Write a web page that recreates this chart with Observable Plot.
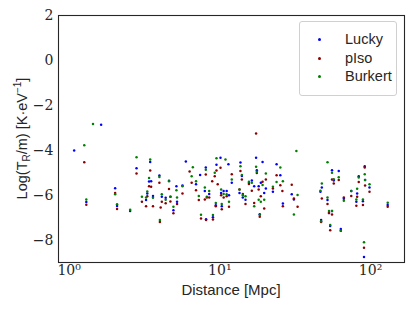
<!DOCTYPE html>
<html>
<head>
<meta charset="utf-8">
<script src="https://cdn.jsdelivr.net/npm/d3@7"></script>
<script src="https://cdn.jsdelivr.net/npm/@observablehq/plot@0.6"></script>
<style>
  html, body { margin: 0; padding: 0; background: white; }
  #wrap { position: relative; width: 415px; height: 311px; }
  #legend {
    position: absolute; left: 299px; top: 21px; width: 98px; height: 75px;
    border: 1px solid #d0d0d0; border-radius: 3px; background: rgba(255,255,255,0.85);
    font-family: "Liberation Sans", Arial, sans-serif; font-size: 14.5px; color: #262626;
    box-sizing: border-box;
  }
  .row { position: absolute; left: 0; height: 18px; line-height: 18px; }
  .mk { position: absolute; left: 18px; top: 8px; width: 3px; height: 3px; border-radius: 50%; }
  .lb { position: absolute; left: 45px; top: 0; white-space: nowrap; }
</style>
</head>
<body>
<div id="wrap"></div>
<script>
// Galaxy distances (Mpc)
const distance = [1.08,1.26,1.30,1.44,1.63,2.02,2.08,2.54,2.80,3.04,
  3.24,3.30,3.39,3.45,3.50,3.60,3.97,4.12,4.05,4.00,
  4.37,4.60,4.70,4.92,5.15,5.20,5.65,5.95,6.30,6.50,
  6.62,6.95,7.25,7.40,8.07,7.95,8.50,7.50,8.10,9.00,
  9.25,8.90,10.1,9.5,10.9,11.4,9.68,10.2,10.6,11.1,
  12.0,9.40,10.3,11.5,8.20,13.7,14.0,13.5,14.2,14.8,
  15.6,16.3,16.9,17.4,17.6,18.1,18.4,18.7,19.2,20.2,
  19.7,22.5,23.8,25.2,26.2,26.0,30.0,31.0,32.8,32.2,
  51.8,55.5,61.5,57.0,47.5,46.5,51.8,53.0,55.5,47.0,
  54.0,63.5,66.5,74.5,80.5,81.5,83.5,89.0,91.5,92.0,
  90.5,98.4,130];
// Log(T_R/m) per profile
const lucky = [-4.01,null,-6.31,null,-2.86,-5.69,-6.48,-6.71,-4.80,null,
  -6.22,-5.93,-5.39,-4.52,-5.38,-6.04,-5.12,-6.07,null,null,
  -6.12,-5.36,-6.07,-6.67,-5.60,-6.30,-5.57,-4.50,null,null,
  null,-5.51,null,-5.10,-4.77,-5.82,-5.95,null,-7.07,-6.99,
  null,null,-4.34,-4.65,null,-4.62,null,-5.90,-5.82,-5.82,
  -5.45,-6.45,-6.50,-6.00,null,-4.55,-5.15,-5.90,-6.10,-6.20,
  -5.45,-5.35,-5.60,-4.33,-4.89,-5.60,-6.85,-5.45,-4.52,-5.70,
  -5.90,-5.85,-4.62,-5.11,-6.37,null,-5.96,-6.19,null,null,
  null,-4.89,-4.93,-5.35,-5.66,-5.85,-6.22,-6.80,-6.71,-7.11,
  -7.38,-7.51,-6.16,-5.82,-6.30,-5.93,-5.16,-6.27,-4.71,-5.33,
  -8.76,-5.66,-6.44];
const pIso = [null,-4.53,-6.43,null,null,-5.91,-6.62,null,-5.04,-6.30,
  -6.49,-6.05,-5.60,-4.90,-5.63,-6.49,-5.45,-6.30,-6.55,-7.20,
  -6.36,-5.73,-6.28,-6.81,null,-6.40,-5.93,null,-4.95,-5.45,
  null,-5.78,-6.22,null,-5.08,-6.19,-6.10,-7.04,-7.11,-7.08,
  -5.16,-5.38,-4.78,-4.90,null,null,-5.51,-6.00,-6.10,-6.05,
  -5.07,-6.50,-6.63,-6.52,-6.10,-4.93,-5.30,-5.75,-5.95,-6.40,
  -5.50,-5.80,-6.35,-3.26,-5.01,-5.75,-6.96,-6.05,-5.40,-5.30,
  -6.60,-5.70,-5.11,-5.56,-6.49,-5.82,-5.54,-6.15,-6.52,null,
  null,-5.30,-5.33,-5.48,-6.15,null,-6.39,-6.79,-6.86,-7.20,
  -7.56,-7.59,-6.10,-6.04,-6.47,-6.07,-5.41,-6.44,-4.77,-5.57,
  -8.34,-5.85,-6.52];
const burkert = [null,-3.78,-6.19,-2.83,null,-5.96,-6.41,-6.65,-4.31,-6.07,
  -6.10,-5.84,-5.24,-4.41,null,-6.12,-5.19,-5.96,null,-7.11,
  -6.20,-5.38,-6.07,-6.52,-5.78,-6.10,-5.60,null,null,-5.16,
  -4.76,-5.38,-6.04,null,-4.87,-5.66,-5.82,-6.87,null,-6.89,
  -5.00,null,null,-4.36,-4.41,null,null,-5.75,-5.95,-5.96,
  -5.30,-6.35,-6.40,-6.30,-6.07,-4.71,-5.10,-5.75,-6.00,-6.05,
  -5.40,-5.45,-6.50,-4.74,-4.96,-6.20,-6.89,-6.30,-5.55,-5.04,
  -6.20,-5.63,-5.41,-4.77,-5.38,null,null,-6.86,-5.99,-4.03,
  -4.53,-5.00,-5.20,-5.29,-5.48,-5.80,-6.10,-6.71,-6.71,-7.16,
  -7.33,-7.59,-6.25,-5.82,-6.19,-5.72,-5.21,-6.19,-5.07,-5.33,
  -8.10,-5.52,-6.34];

const seriesNames = ["Lucky", "pIso", "Burkert"];
const seriesColors = ["#0000ff", "#8b0000", "#007f00"];
const xTicks = [1, 10, 100];
const xTickLabels = ["10⁰", "10¹", "10²"];
const yTicks = [-8, -6, -4, -2, 0, 2];

const seriesValues = [lucky, pIso, burkert];
const rows = [];
seriesValues.forEach((vals, s) => {
  vals.forEach((v, i) => {
    if (v != null) rows.push({d: distance[i], v, s: seriesNames[s]});
  });
});

const chart = Plot.plot({
  width: 415,
  height: 311,
  marginLeft: 58,
  marginRight: 11,
  marginTop: 15,
  marginBottom: 49,
  style: {fontFamily: "DejaVu Serif", fontSize: "14px", color: "#262626", background: "white", overflow: "visible"},
  x: {type: "log", domain: [0.85, 168], ticks: xTicks, tickFormat: d => xTickLabels[xTicks.indexOf(d)], tickSize: 0, tickPadding: 3, label: null},
  y: {domain: [-9, 2], ticks: yTicks, tickSize: 0, tickPadding: 5, label: null},
  color: {domain: seriesNames, range: seriesColors},
  marks: [
    Plot.dot(rows, {x: "d", y: "v", fill: "s", r: 1.25}),
    Plot.frame({stroke: "#262626", strokeWidth: 1.1})
  ]
});

document.getElementById("wrap").appendChild(chart);

const svg = d3.select(chart);
// y label
const yl = svg.append("text")
  .attr("transform", "translate(22,138.5) rotate(-90)")
  .attr("text-anchor", "middle")
  .attr("dy", "0.35em")
  .attr("font-family", "Liberation Sans, Arial, sans-serif")
  .attr("font-size", 14.5)
  .attr("fill", "#262626");
yl.append("tspan").text("Log(T");
yl.append("tspan").text("R").attr("font-size", 10).attr("dy", "3");
yl.append("tspan").text("/m) [K·eV").attr("dy", "-3");
yl.append("tspan").text("−1").attr("font-size", 10).attr("dy", "-6");
yl.append("tspan").text("]").attr("dy", "6");
// x label
svg.append("text")
  .attr("x", 231).attr("y", 290)
  .attr("text-anchor", "middle")
  .attr("dy", "0.35em")
  .attr("font-family", "Liberation Sans, Arial, sans-serif")
  .attr("font-size", 15)
  .attr("fill", "#262626")
  .text("Distance [Mpc]");

// legend
const lg = document.createElement("div");
lg.id = "legend";
seriesNames.forEach((n, i) => {
  const r = document.createElement("div");
  r.className = "row";
  r.style.top = (8 + i * 18.5) + "px";
  r.style.width = "96px";
  const m = document.createElement("span");
  m.className = "mk";
  m.style.background = seriesColors[i];
  const t = document.createElement("span");
  t.className = "lb";
  t.textContent = n;
  r.appendChild(m); r.appendChild(t);
  lg.appendChild(r);
});
document.getElementById("wrap").appendChild(lg);
</script>
</body>
</html>
